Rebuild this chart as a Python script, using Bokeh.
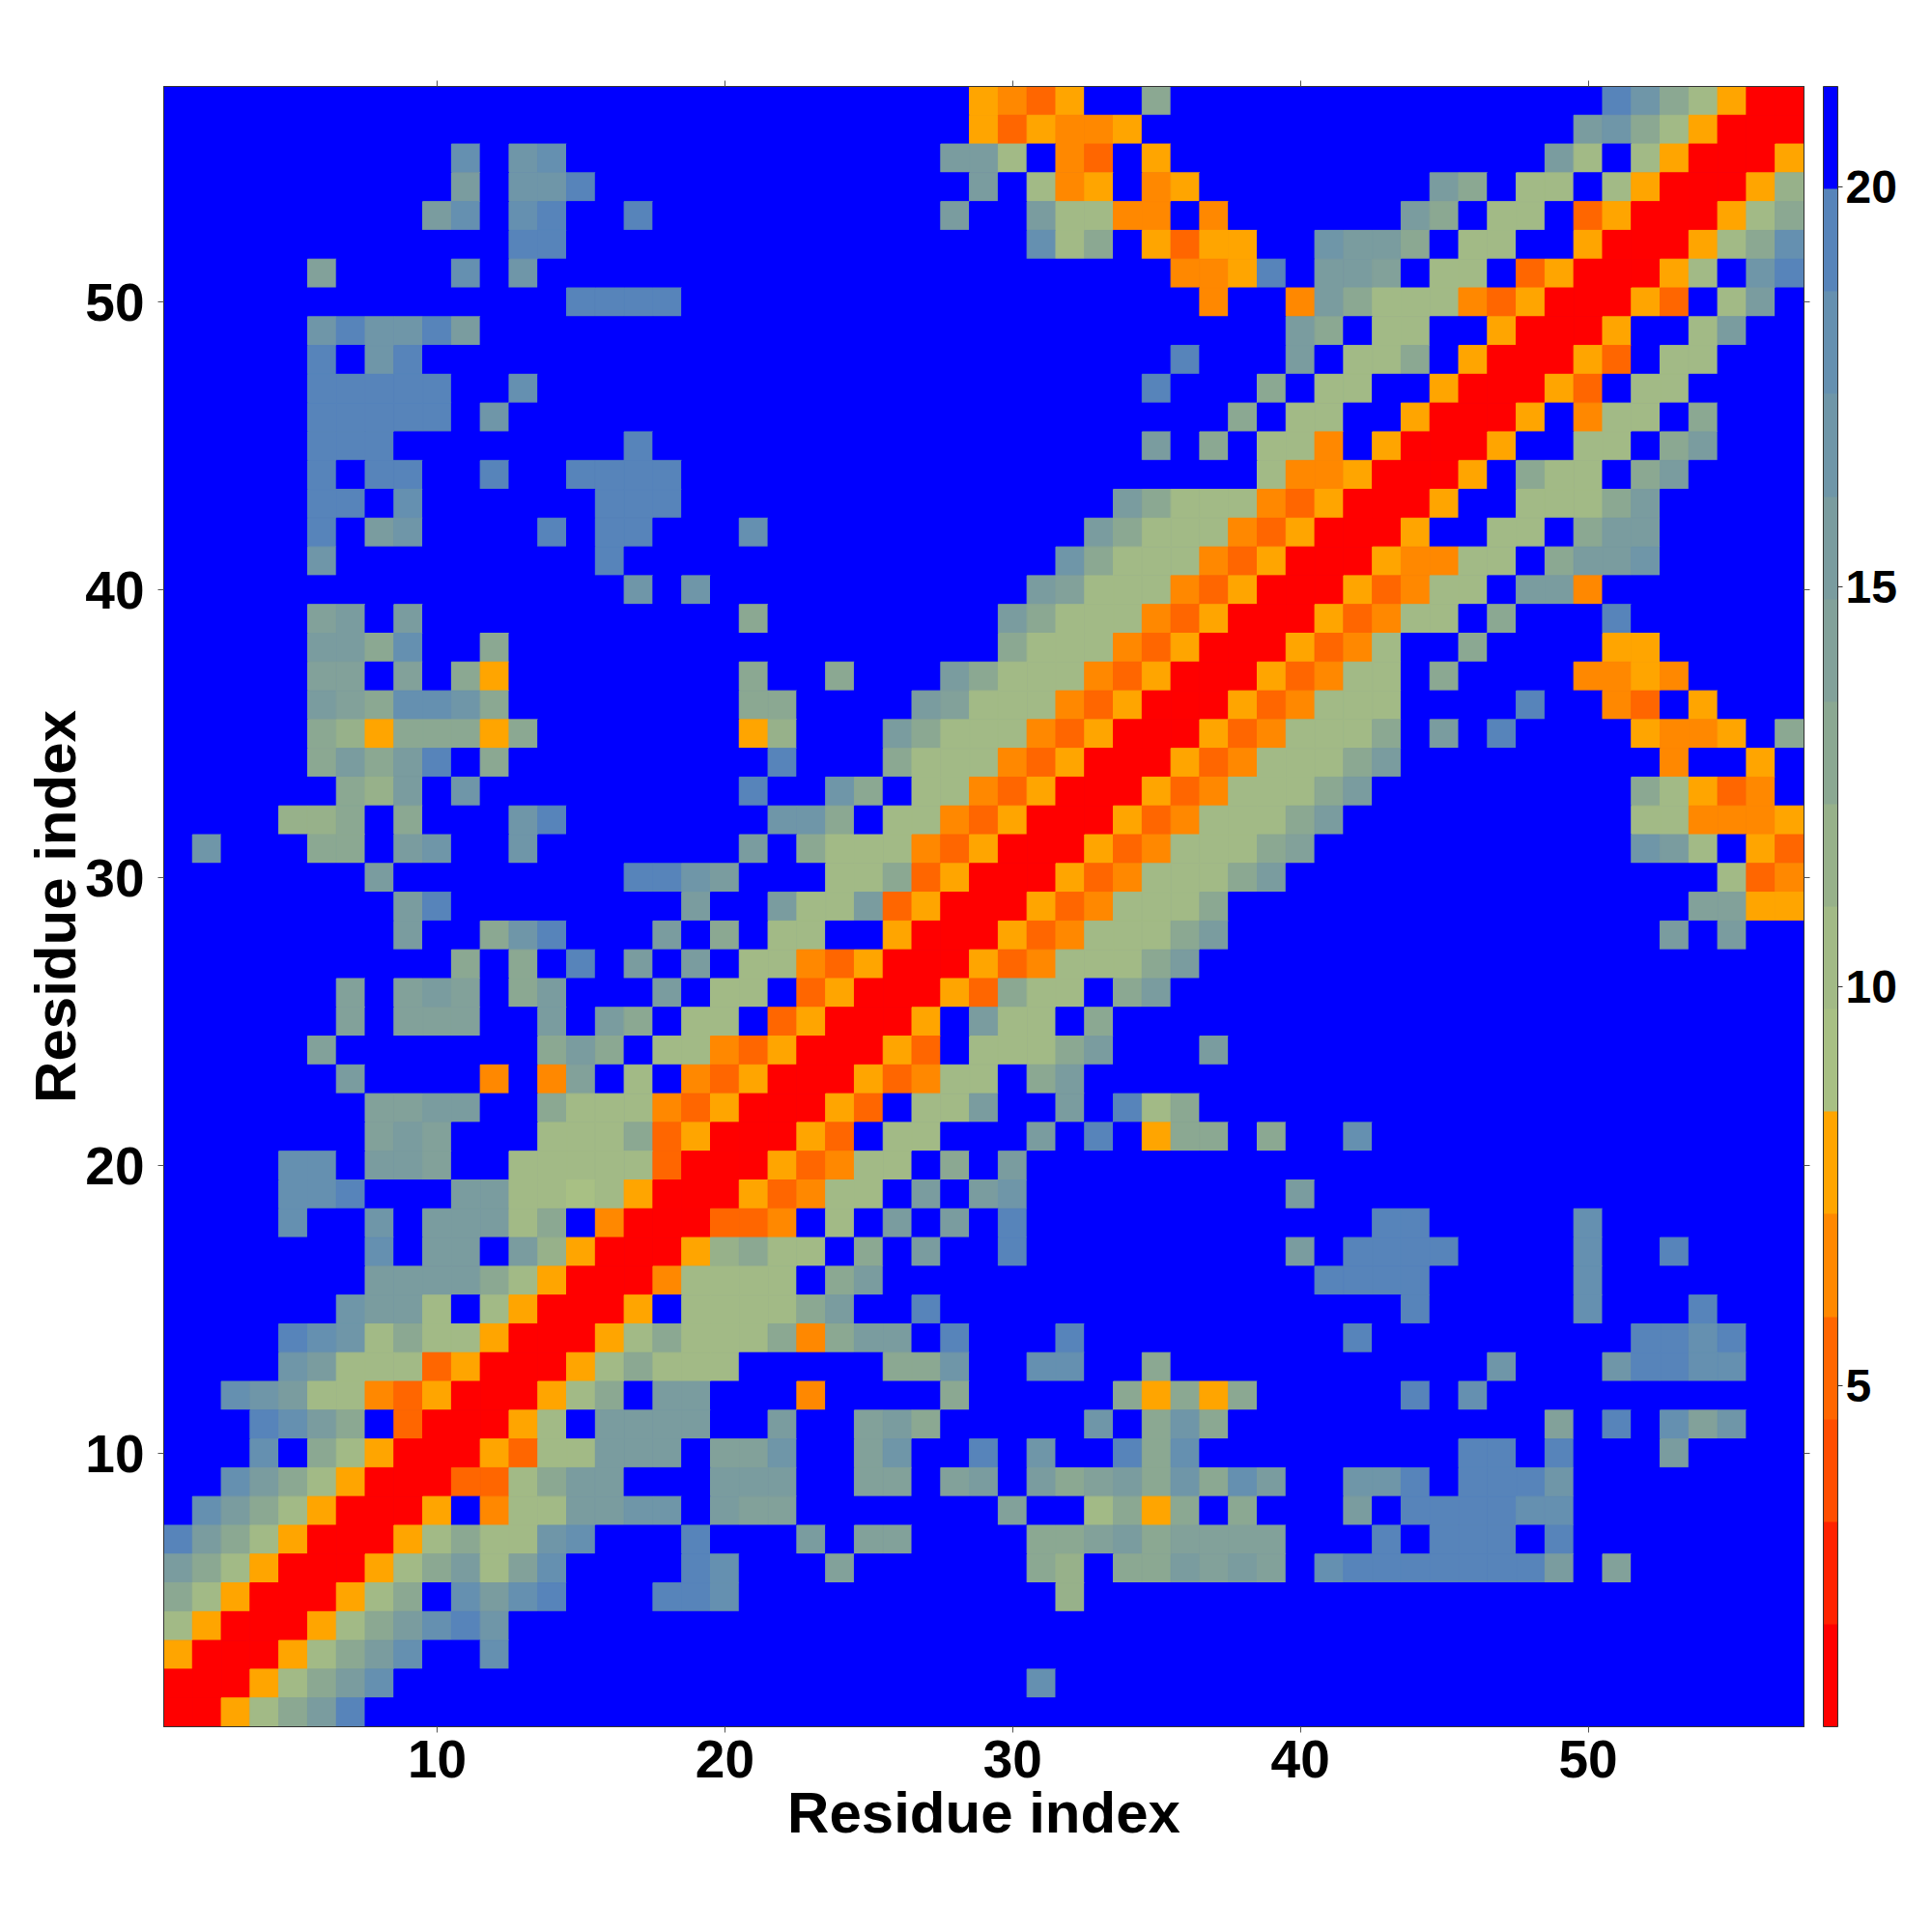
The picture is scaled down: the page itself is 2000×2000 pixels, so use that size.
from bokeh.embed import file_html
from bokeh.resources import INLINE
from bokeh.plotting import figure
from bokeh.models import (ColumnDataSource, LinearColorMapper, ColorBar, FixedTicker,
                          LinearAxis, Range1d)
from bokeh.transform import transform

RESIDUES = list(range(1, 58))
X_TICKS = [10, 20, 30, 40, 50]
CBAR_TICKS = [5, 10, 15, 20]
V_LOW = 0.74
V_HIGH = 21.26
PALETTE = ["#ff0000", "#ff2200", "#ff4d00", "#ff6600", "#ff8800", "#ffa500",
           "#a8c084", "#a2ba86", "#97b18a", "#8ba892", "#82a19a", "#7a9c9f",
           "#6f96a8", "#6590b0", "#5784ba", "#0000ff"]
E = ".........."
G6E = "......."
# Distance level per residue pair (hex index of colour band, "." = beyond the scale),
# one row per y-residue from 57 down to 1; groups are columns 1-10, 11-20, ... 51-57.
ROWS = [
 [E, E, "........54", "35..9.....", E, "ec97500"],
 [E, E, "........53", "5445......", ".........b", "c975000"],
 [E, "d.cd......", ".......bb7", ".43.5.....", "........b7", ".750005"],
 [E, "b.cce.....", "........b.", "745.45....", "....b9.77.", "7500058"],
 [".........b", "d.de..e...", ".......b..", "b7744.4...", "...b9.77.3", "5000579"],
 [E, "..ee......", E, "d79.5355..", "cbb9.77..5", "000579d"],
 [".....a....", "d.c.......", E, ".....445e.", "bba.77.350", "0057.ce"],
 [E, "....eeee..", E, "......4..4", "b977743500", "053.7b."],
 [".....cecce", "b.........", E, ".........b", "9.77..5000", "5..7b.."],
 [".....e.ce.", E, E, ".....e...b", ".779.50005", "3.77..."],
 [".....eeeee", "..d.......", E, "....e...9.", "77..500053", ".77...."],
 [".....eeeee", ".c........", E, ".......9.7", "7..50005.4", "77.9..."],
 [".....eee..", "......e...", E, "....b.9.77", "4.50005..7", "7.9b..."],
 [".....e.ee.", ".e..eeee..", E, "........74", "450005.977", ".9b...."],
 [".....ee.d.", ".....eee..", E, "...b977743", "50005..777", "9b....."],
 [".....e.bc.", "...e.ee...", "d.........", "..b9777435", "0005..77.9", "bb....."],
 [".....c....", ".....e....", E, ".c97774350", "0054477.9b", "bc....."],
 [E, "......c.c.", E, "ba77743500", "053477.bb4", G6E],
 [".....ab.b.", E, "9........b", "9777435000", "53477.9...", "e......"],
 [".....bb9d.", ".9........", ".........9", "7774350005", "347..9....", "55....."],
 [".....aa.a.", "95........", "9..9...b97", "7743500053", "477.9....4", "454...."],
 [".....ba9dd", "c9........", "99....ba77", "7435000534", "777....e..", "43.5..."],
 [".....98599", "959.......", "58...b9777", "4350005347", "779.b.e...", ".5445.9"],
 [".....9b9be", ".9........", ".e...97774", "3500053477", "79b.......", "..4..5."],
 ["......98b.", "c.........", "e..c9.7743", "5000534777", "9b........", ".97534."],
 ["....889.9.", "..ce......", ".cc9.77435", "0005347779", "b.........", ".774445"],
 [".c...99.bc", "..c.......", "b.97774350", "005347779a", E, ".cb7.53"],
 [".......b..", "......eecb", "...7793500", "05347779b.", E, "....734"],
 ["........be", "........b.", ".b77b35000", "5347779...", E, "...aa55"],
 ["........b.", ".9ce...b.9", ".77..50005", "347779b...", E, "..b.b.."],
 [E, "9.9.e.b.b.", "7743500053", "47779b....", E, G6E],
 ["......a.ab", "a.9b...b.7", "7.35000539", "77.9b.....", E, G6E],
 ["......a.aa", "a..b.b9.77", ".350005.b7", "7.9.......", E, G6E],
 [".....a....", "...9b9.774", "3500053.77", "79b...b...", E, G6E],
 ["......b...", ".4.4a.7.43", "500053477.", "9b........", E, G6E],
 [".......aab", "b..9777435", "00053.77b.", ".b.e79....", E, G6E],
 [".......aba", "...7779350", "0053.77...", "b.e.599.9.", ".d........", G6E],
 ["....dd.bba", "..77777300", "053477.9.b", E, E, G6E],
 ["....dde...", "bb77675000", "53477.b.bc", ".........b", E, G6E],
 ["....d..c.b", "bb79.40003", "34.7.b.b.e", E, "..ee.....d", G6E],
 [".......d.b", "b.b8500058", "977.9.b..e", ".........b", ".eeee....d", "..e...."],
 [".......bbb", "b975000477", "77.9b.....", E, "eeee.....d", G6E],
 ["......cbb7", ".750005.77", "779b..e...", E, "...e.....d", "...e..."],
 ["....edc797", "7500057977", "7949bb.e..", ".e........", ".e........", ".eede.."],
 ["....cb7773", "5000579777", ".....99c..", "dd..9.....", "......c...", "ceedd.."],
 ["..dcb77435", "000579.bb.", "..4....9..", "...95959..", "...e.d....", G6E],
 ["...edb9.30", "0057.bbbb.", ".b..ab9...", "..c.9c9...", "........a.", "e.dac.."],
 ["...d.97500", "05377bbb.a", "ac..ac..e.", "c..e9d....", ".....ee.e.", "..b...."],
 ["..db975000", "3379bb...b", "bb..aa.ab.", "b9ab9c9db.", ".cce.eeec.", G6E],
 [".db9750005", ".477bbcc.b", "aa.......a", "..7959.9..", ".b.eeeedd.", G6E],
 ["eb97500057", "977cd...e.", "..b.aa....", "99ab9aaaa.", "..e.eee.e.", G6E],
 ["b975000579", "b7ad....ed", "...a......", "98.99baba.", "deeeeeeeb.", "a......"],
 ["975000579.", "dbde...eed", E, ".8........", E, G6E],
 ["75000579bd", "ec........", E, E, E, G6E],
 ["5000579bd.", ".d........", E, E, E, G6E],
 ["000579bd..", E, E, "d.........", E, G6E],
 ["00579be...", E, E, E, E, G6E],
]

step = (V_HIGH - V_LOW) / len(PALETTE)
xs, ys, vs = [], [], []
for row, resid_y in zip(ROWS, reversed(RESIDUES)):
    text = "".join(row)
    assert len(text) == 57, (resid_y, len(text))
    for ch, resid_x in zip(text, RESIDUES):
        level = 15 if ch == "." else int(ch, 16)
        xs.append(resid_x)
        ys.append(resid_y)
        vs.append(V_LOW + (level + 0.5) * step)

source = ColumnDataSource(dict(x=xs, y=ys, v=vs))
mapper = LinearColorMapper(palette=PALETTE, low=V_LOW, high=V_HIGH)

p = figure(width=1992, height=1992, output_backend="svg", toolbar_location=None,
           x_range=Range1d(0.5, 57.5), y_range=Range1d(0.5, 57.5),
           min_border_left=169, min_border_right=125, min_border_top=89, min_border_bottom=205)
p.grid.visible = False
p.outline_line_color = "#333333"
p.outline_line_width = 1
p.background_fill_color = "#0000ff"

p.rect("x", "y", width=1, height=1, source=source,
       fill_color=transform("v", mapper), line_color=transform("v", mapper), line_width=1)

FONT = "Liberation Sans"
for ax in (p.xaxis[0], p.yaxis[0]):
    ax.ticker = FixedTicker(ticks=X_TICKS)
    ax.minor_tick_line_color = None
    ax.major_tick_in = 0
    ax.major_tick_out = 6
    ax.major_tick_line_color = "#555555"
    ax.axis_line_color = "#333333"
    ax.major_label_text_font = FONT
    ax.major_label_text_font_style = "bold"
    ax.major_label_text_font_size = "55px"
    ax.major_label_text_color = "#000000"
    ax.axis_label = "Residue index"
    ax.axis_label_text_font = FONT
    ax.axis_label_text_font_style = "bold"
    ax.axis_label_text_font_size = "60px"
    ax.axis_label_text_color = "#000000"
p.xaxis[0].major_label_standoff = 8
p.xaxis[0].axis_label_standoff = 0
p.yaxis[0].major_label_standoff = 14
p.yaxis[0].axis_label_standoff = -6
p.yaxis[0].major_label_orientation = "horizontal"

for side in ("above", "right"):
    extra = LinearAxis(ticker=FixedTicker(ticks=X_TICKS), major_label_text_font_size="1px",
                       major_label_overrides={t: "" for t in X_TICKS},
                       major_label_standoff=0, minor_tick_line_color=None, major_tick_in=0,
                       major_tick_out=6, major_tick_line_color="#555555", axis_line_color="#333333")
    p.add_layout(extra, side)

cb = ColorBar(color_mapper=mapper, ticker=FixedTicker(ticks=CBAR_TICKS), width=15, padding=0, margin=0,
              location=(14, 0),
              major_tick_in=0, major_tick_out=5, major_tick_line_color="#333333",
              minor_tick_line_color=None, bar_line_color="#333333", bar_line_width=1,
              major_label_text_font=FONT, major_label_text_font_style="bold",
              major_label_text_font_size="48px", major_label_text_color="#000000",
              label_standoff=3)
p.add_layout(cb, "right")

open("out.html", "w").write(file_html(p, INLINE))
